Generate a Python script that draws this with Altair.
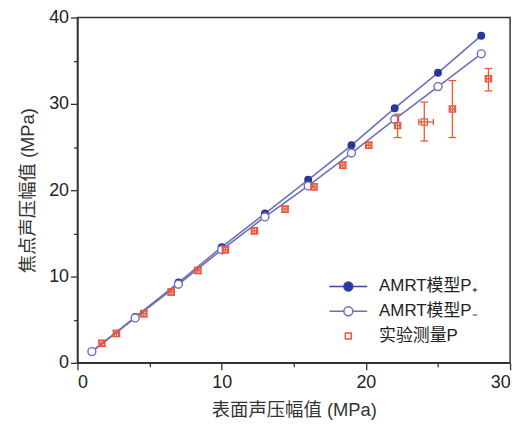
import altair as alt
import pandas as pd

# ---- data ----
x_model = [1, 4, 7, 10, 13, 16, 19, 22, 25, 28]
p_plus = [1.3, 5.3, 9.3, 13.4, 17.3, 21.2, 25.2, 29.5, 33.6, 37.9]
p_minus = [1.3, 5.2, 9.1, 13.1, 16.9, 20.5, 24.3, 28.2, 32.0, 35.8]

x_exp = [1.7, 2.7, 4.6, 6.5, 8.35, 10.26, 12.27, 14.4, 16.4, 18.4, 20.2, 22.2, 24.05, 26.0, 28.5]
y_exp = [2.26, 3.4, 5.7, 8.2, 10.7, 13.1, 15.3, 17.8, 20.4, 22.9, 25.2, 27.5, 27.9, 29.4, 32.9]
y_lo = [1.9, 3.05, 5.35, 7.85, 10.35, 12.75, 14.95, 17.45, 20.05, 22.55, 24.85, 26.1, 25.7, 26.1, 31.5]
y_hi = [2.6, 3.75, 6.05, 8.55, 11.05, 13.45, 15.65, 18.15, 20.75, 23.25, 25.55, 28.8, 30.2, 32.7, 34.1]
x_lo = [1.55, 2.55, 4.45, 6.35, 8.2, 10.11, 12.12, 14.25, 16.25, 18.25, 20.05, 22.05, 23.67, 25.85, 28.35]
x_hi = [1.85, 2.85, 4.75, 6.65, 8.5, 10.41, 12.42, 14.55, 16.55, 18.55, 20.35, 22.35, 24.68, 26.15, 28.65]

series_names = ["AMRT模型P₊", "AMRT模型P₋", "实验测量P"]

line_col = "#6c6fb8"
dot_col = "#27389c"
red = "#e9573b"

model = pd.DataFrame({"x": x_model, "pp": p_plus, "pm": p_minus})
exp = pd.DataFrame({"x": x_exp, "y": y_exp, "ylo": y_lo, "yhi": y_hi, "xlo": x_lo, "xhi": x_hi})

xs = alt.Scale(domain=[0, 30], nice=False)
ys = alt.Scale(domain=[0, 40], nice=False)

tick_size = {"condition": {"test": "datum.value % 10 === 0", "value": 7}, "value": 4}

xax = alt.Axis(values=list(range(0, 31, 5)), labelExpr="datum.value % 10 === 0 ? datum.label : ''",
               title="表面声压幅值 (MPa)", tickSize=tick_size, labelPadding=4, titlePadding=9)
yax = alt.Axis(values=list(range(0, 41, 5)), labelExpr="datum.value % 10 === 0 ? datum.label : ''",
               title="焦点声压幅值 (MPa)", tickSize=tick_size, labelPadding=2, titlePadding=11)

base_m = alt.Chart(model)
base_e = alt.Chart(exp)

line_p = base_m.mark_line(color=line_col, strokeWidth=1.6).encode(
    x=alt.X("x:Q", scale=xs, axis=xax), y=alt.Y("pp:Q", scale=ys, axis=yax))
line_m = base_m.mark_line(color=line_col, strokeWidth=1.6).encode(x="x:Q", y="pm:Q")
pt_p = base_m.mark_point(shape="circle", filled=True, color=dot_col, size=64, opacity=1).encode(x="x:Q", y="pp:Q")
pt_m = base_m.mark_point(shape="circle", fill="white", stroke=line_col, strokeWidth=1.4, size=64, opacity=1).encode(
    x="x:Q", y="pm:Q")

err_v = base_e.mark_rule(color=red, strokeWidth=1.3).encode(x="x:Q", y="ylo:Q", y2="yhi:Q")
err_h = base_e.mark_rule(color=red, strokeWidth=1.3).encode(x="xlo:Q", x2="xhi:Q", y="y:Q")
cap_lo = base_e.mark_point(shape="stroke", color=red, strokeWidth=1.3, size=60, opacity=1).encode(x="x:Q", y="ylo:Q")
cap_hi = base_e.mark_point(shape="stroke", color=red, strokeWidth=1.3, size=60, opacity=1).encode(x="x:Q", y="yhi:Q")
capx_lo = base_e.mark_point(shape="M0,-1L0,1", color=red, strokeWidth=1.3, size=40, opacity=1).encode(x="xlo:Q", y="y:Q")
capx_hi = base_e.mark_point(shape="M0,-1L0,1", color=red, strokeWidth=1.3, size=40, opacity=1).encode(x="xhi:Q", y="y:Q")
sq = base_e.mark_point(shape="square", filled=False, color=red, strokeWidth=1.3, size=40, opacity=1).encode(
    x="x:Q", y="y:Q")

# legend layer (no visible marks; legend from explicit scale domains)
path_lc = "M-1.9,0H-0.45M0.45,0H1.9M0.45,0A0.45,0.45 0 1 1 -0.45,0A0.45,0.45 0 1 1 0.45,0Z"
path_sq = "M-0.3,-0.3H0.3V0.3H-0.3Z"
leg_df = pd.DataFrame({"series": series_names, "v": [-1, -1, -1]})
legend_layer = alt.Chart(leg_df).transform_filter("datum.v > 0").mark_point(opacity=1).encode(
    x=alt.value(0), y=alt.value(0),
    shape=alt.Shape("series:N", scale=alt.Scale(domain=series_names, range=[path_lc, path_lc, path_sq]),
                    legend=alt.Legend(title=None, orient="none", legendX=262, legendY=260,
                                      symbolSize=400, symbolStrokeWidth=1.5, labelOffset=20,
                                      labelFontSize=17, rowPadding=6, padding=0, labelColor="#222",
                                      labelFont="Liberation Sans, Noto Sans CJK SC")),
    stroke=alt.Stroke("series:N", scale=alt.Scale(domain=series_names, range=["#3a42a4", line_col, red])),
    fill=alt.Fill("series:N", scale=alt.Scale(domain=series_names, range=[dot_col, "white", "white"])),
)

chart = alt.layer(line_p, line_m, pt_p, pt_m, err_v, err_h, cap_lo, cap_hi, capx_lo, capx_hi, sq,
                  legend_layer).properties(
    width=436, height=348,
    autosize=alt.AutoSizeParams(type="none"),
    padding={"left": 70, "top": 8, "right": 10, "bottom": 58},
).configure_view(stroke="#333", strokeWidth=1.5).configure_axis(
    grid=False, domainColor="#333", domainWidth=1.5, tickColor="#333", tickWidth=1.3,
    labelFontSize=18, labelColor="#222", labelFont="Liberation Sans, Noto Sans CJK SC",
    titleFontSize=18.5, titleColor="#333", titleFontWeight="normal",
    titleFont="Liberation Sans, Noto Sans CJK SC",
)

chart.save("out.html", embed_options={"renderer": "svg", "actions": False})
